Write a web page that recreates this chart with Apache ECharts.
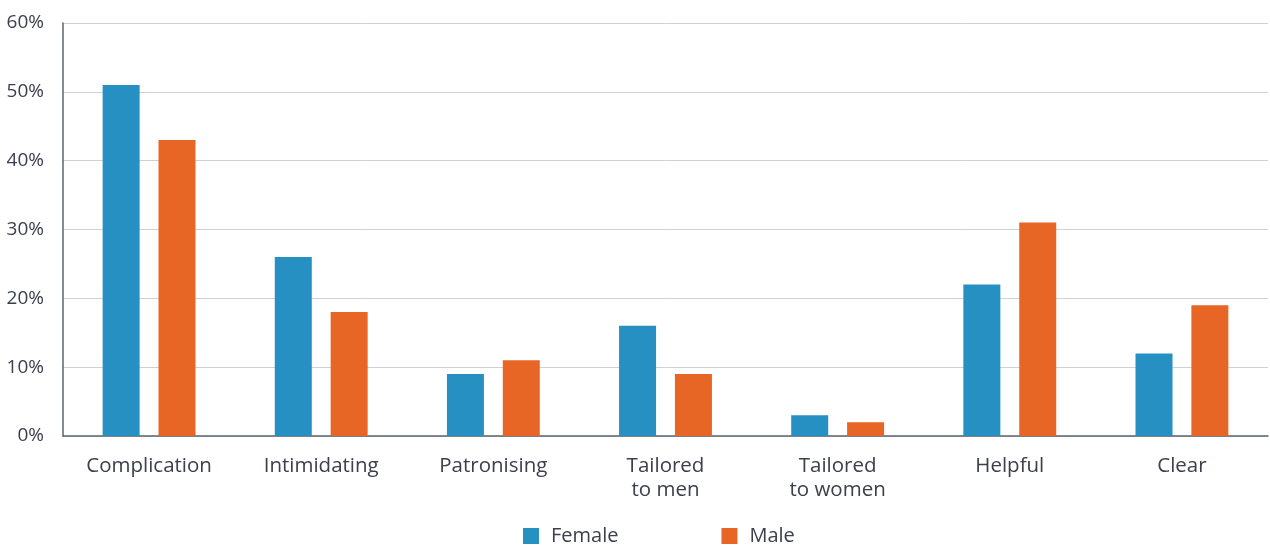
<!DOCTYPE html>
<html>
<head>
<meta charset="utf-8">
<script src="https://cdn.jsdelivr.net/npm/echarts@6/dist/echarts.min.js"></script>
<style>html,body{margin:0;padding:0;background:#fff}#c{width:1270px;height:545px}</style>
</head>
<body>
<div id="c"></div>
<script>
const categories = ['Complication', 'Intimidating', 'Patronising', 'Tailored\nto men', 'Tailored\nto women', 'Helpful', 'Clear'];
const female = [51, 26, 9, 16, 3, 22, 12];
const male = [43, 18, 11, 9, 2, 31, 19];
const yTicks = [0, 10, 20, 30, 40, 50, 60];

const font = '"Open Sans", "Noto Sans", sans-serif';
const textColor = '#3b404c';
const chart = echarts.init(document.getElementById('c'));
chart.setOption({
  animation: false,
  grid: { left: 63, right: 2, top: 23, bottom: 109, containLabel: false },
  legend: {
    left: 523, top: 526,
    itemWidth: 16, itemHeight: 16, itemGap: 103,
    icon: 'rect', padding: 0,
    textStyle: { fontFamily: font, fontSize: 20, color: textColor, padding: [0, 0, 0, 7] },
    data: ['Female', 'Male']
  },
  xAxis: {
    type: 'category',
    data: categories,
    axisLine: { lineStyle: { color: '#5b6472', width: 1.5 } },
    axisTick: { show: false },
    axisLabel: { fontFamily: font, fontSize: 20.5, color: textColor, margin: 18, lineHeight: 24 }
  },
  yAxis: {
    type: 'value',
    min: yTicks[0], max: yTicks[yTicks.length - 1], interval: 10,
    axisLine: { show: true, lineStyle: { color: '#5b6472', width: 1.5 } },
    axisTick: { show: false },
    splitLine: { lineStyle: { color: '#cfd0d8', width: 1 } },
    axisLabel: { fontFamily: font, fontSize: 19, color: textColor, margin: 19, formatter: '{value}%' }
  },
  series: [
    { name: 'Female', type: 'bar', data: female, barWidth: 37, barGap: '51%', itemStyle: { color: '#2690c2' } },
    { name: 'Male', type: 'bar', data: male, barWidth: 37, itemStyle: { color: '#e86625' } }
  ]
});
</script>
</body>
</html>
